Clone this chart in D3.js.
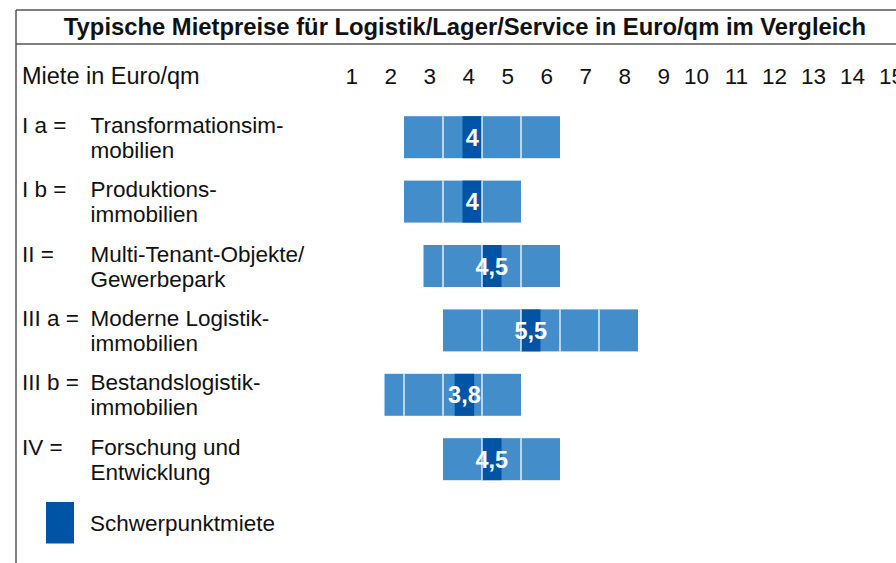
<!DOCTYPE html>
<html>
<head>
<meta charset="utf-8">
<script src="https://cdn.jsdelivr.net/npm/d3@7/dist/d3.min.js"></script>
<style>
  html, body { margin: 0; padding: 0; background: #fff; }
  svg { display: block; }
  text { font-family: "Liberation Sans", Arial, Helvetica, sans-serif; fill: #111; }
</style>
</head>
<body>
<svg id="chart" width="896" height="563"></svg>
<script>
// Rent classes (rows)
const categories = ["I a", "I b", "II", "III a", "III b", "IV"];
const codeLabels = ["I a =", "I b =", "II =", "III a =", "III b =", "IV ="];
const descLine1 = ["Transformationsim-", "Produktions-", "Multi-Tenant-Objekte/", "Moderne Logistik-", "Bestandslogistik-", "Forschung und"];
const descLine2 = ["mobilien", "immobilien", "Gewerbepark", "immobilien", "immobilien", "Entwicklung"];

// Typical rent range per class (Euro/qm)
const rangeLow  = [2, 2, 2.5, 3, 1.5, 3];
const rangeHigh = [6, 5, 6, 8, 5, 6];

// Focus rent (Schwerpunktmiete) per class
const focusRent   = [4, 4, 4.5, 5.5, 3.8, 4.5];
const focusLabels = ["4", "4", "4,5", "5,5", "3,8", "4,5"];

// Scale ticks
const tickValues = [1, 2, 3, 4, 5, 6, 7, 8, 9, 10, 11, 12, 13, 14, 15];
const tickLabels = ["1", "2", "3", "4", "5", "6", "7", "8", "9", "10", "11", "12", "13", "14", "15"];

const title = "Typische Mietpreise für Logistik/Lager/Service in Euro/qm im Vergleich";
const axisTitle = "Miete in Euro/qm";
const legendLabel = "Schwerpunktmiete";

const LIGHT = "#438dca";
const DARK = "#0054a5";
const FRAME = "#555";
const FS = 22.5;

const svg = d3.select("#chart");

const x = d3.scaleLinear().domain([1, 15]).range([365, 911]);
const y = d3.scaleBand()
  .domain(categories)
  .range([105, 105 + 6 * 64.4])
  .paddingInner(0.348)
  .paddingOuter(0.174);

// Frame
svg.append("line").attr("x1", 16).attr("x2", 896).attr("y1", 10).attr("y2", 10)
  .attr("stroke", FRAME).attr("stroke-width", 1.5);
svg.append("line").attr("x1", 16).attr("x2", 896).attr("y1", 44).attr("y2", 44)
  .attr("stroke", FRAME).attr("stroke-width", 1.5);
svg.append("line").attr("x1", 16).attr("x2", 16).attr("y1", 10).attr("y2", 563)
  .attr("stroke", FRAME).attr("stroke-width", 1.5);

// Title
svg.append("text")
  .attr("x", 465).attr("y", 34.5)
  .attr("text-anchor", "middle")
  .attr("font-weight", "bold")
  .attr("font-size", 23.8)
  .text(title);

// Scale header
svg.append("text")
  .attr("x", 22).attr("y", 83.5)
  .attr("font-size", 23.5)
  .text(axisTitle);

svg.append("g").selectAll("text")
  .data(tickValues)
  .join("text")
  .attr("x", d => x(d) - 7)
  .attr("y", 83.5)
  .attr("text-anchor", "end")
  .attr("font-size", FS)
  .text((d, i) => tickLabels[i]);

// Row labels
const rows = svg.append("g").selectAll("g")
  .data(categories)
  .join("g")
  .attr("transform", d => `translate(0, ${y(d) + y.bandwidth() / 2 - 4.5})`);

rows.append("text").attr("x", 22).attr("y", 0).attr("font-size", FS)
  .text((d, i) => codeLabels[i]);
rows.append("text").attr("x", 90.5).attr("y", 0).attr("font-size", FS)
  .text((d, i) => descLine1[i]);
rows.append("text").attr("x", 90.5).attr("y", 25).attr("font-size", FS)
  .text((d, i) => descLine2[i]);

// Range bars
const bars = svg.append("g").selectAll("g")
  .data(categories)
  .join("g");

bars.append("rect")
  .attr("x", (d, i) => x(rangeLow[i]))
  .attr("y", d => y(d))
  .attr("width", (d, i) => x(rangeHigh[i]) - x(rangeLow[i]))
  .attr("height", y.bandwidth())
  .attr("fill", LIGHT);

// Focus rent mark: half-unit block ending at the value
bars.append("rect")
  .attr("x", (d, i) => x(focusRent[i] - 0.5))
  .attr("y", d => y(d))
  .attr("width", (d, i) => x(focusRent[i]) - x(focusRent[i] - 0.5))
  .attr("height", y.bandwidth())
  .attr("fill", DARK);

// Unit dividers inside each bar
bars.each(function (d, i) {
  const cuts = tickValues.filter(v => v > rangeLow[i] && v < rangeHigh[i]);
  d3.select(this).selectAll("line.div")
    .data(cuts)
    .join("line")
    .attr("class", "div")
    .attr("x1", v => x(v)).attr("x2", v => x(v))
    .attr("y1", y(d)).attr("y2", y(d) + y.bandwidth())
    .attr("stroke", "#fff")
    .attr("stroke-opacity", 0.85)
    .attr("stroke-width", 1.5);
});

// Focus rent value labels
bars.append("text")
  .attr("x", (d, i) => (x(focusRent[i] - 0.5) + x(focusRent[i])) / 2)
  .attr("y", d => y(d) + y.bandwidth() / 2 + 8.5)
  .attr("text-anchor", "middle")
  .attr("font-weight", "bold")
  .attr("font-size", 23.5)
  .style("fill", "#fff")
  .text((d, i) => focusLabels[i]);

// Legend
svg.append("rect")
  .attr("x", 46).attr("y", 502).attr("width", 28).attr("height", 41.5)
  .attr("fill", DARK);
svg.append("text")
  .attr("x", 90).attr("y", 531)
  .attr("font-size", FS)
  .text(legendLabel);
</script>
</body>
</html>
